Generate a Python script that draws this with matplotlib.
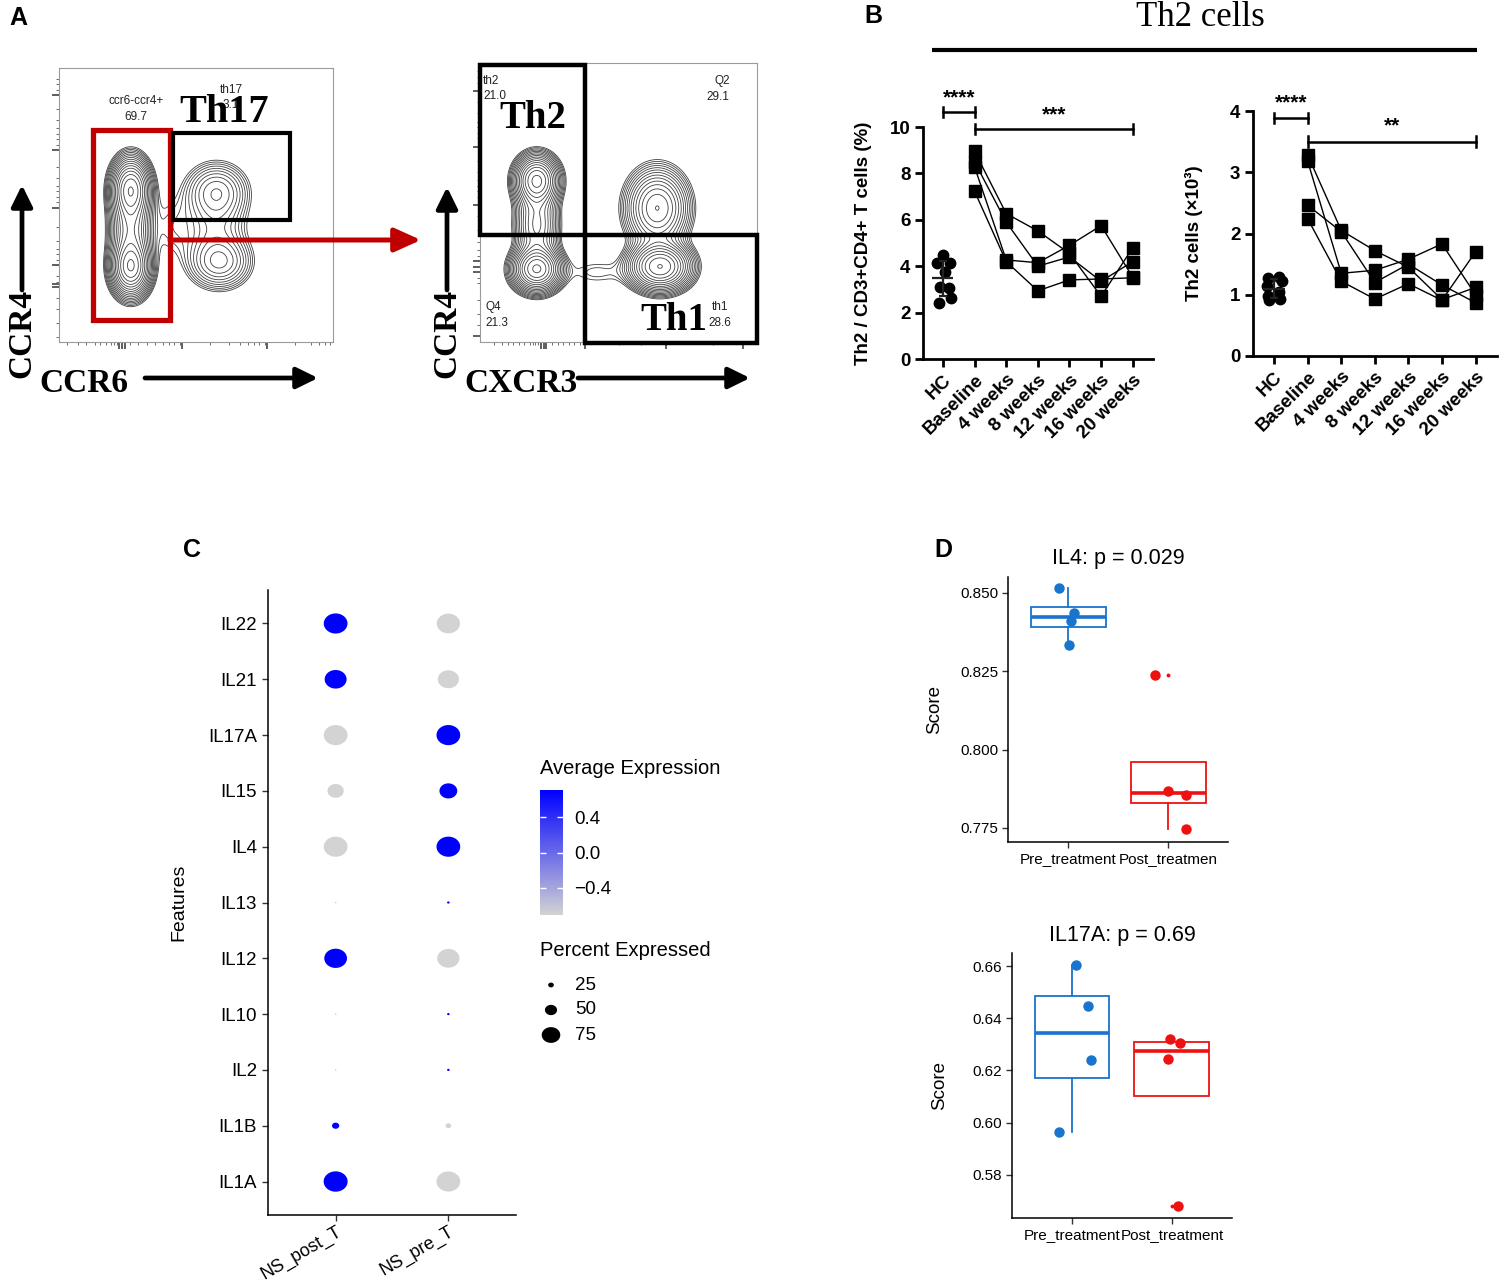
import numpy as np
import matplotlib
matplotlib.use("Agg")
import matplotlib.pyplot as plt
import matplotlib.cbook as cbook
from matplotlib.path import Path
from matplotlib.patches import Rectangle
from matplotlib.colors import LinearSegmentedColormap, Normalize
from matplotlib.cm import ScalarMappable

plt.rcParams['font.family'] = ['Liberation Sans', 'DejaVu Sans']
SERIF = ['Liberation Serif', 'DejaVu Serif']

# ---------------- data ----------------
# Panel A: flow populations (x, y, sx, sy, weight) in axes fraction
flow1_pops = [
    (0.262, 0.56, 0.038, 0.060, 1.0),
    (0.262, 0.27, 0.038, 0.055, 1.0),
    (0.262, 0.41, 0.040, 0.090, 0.55),
    (0.575, 0.55, 0.065, 0.060, 0.24),
    (0.585, 0.29, 0.065, 0.055, 0.26),
    (0.570, 0.42, 0.070, 0.080, 0.12),
    (0.410, 0.42, 0.050, 0.080, 0.05),
]
flow2_pops = [
    (0.205, 0.58, 0.042, 0.048, 1.0),
    (0.205, 0.26, 0.046, 0.042, 1.2),
    (0.205, 0.42, 0.042, 0.080, 0.45),
    (0.650, 0.27, 0.058, 0.045, 1.2),
    (0.640, 0.48, 0.060, 0.075, 0.65),
    (0.420, 0.25, 0.075, 0.035, 0.06),
]
flow1_gates = {'red': (0.124, 0.08, 0.405, 0.774), 'th17': (0.416, 0.445, 0.843, 0.763)}
flow2_gates = {'th2': (0.0, 0.384, 0.379, 0.993), 'th1': (0.379, -0.004, 1.0, 0.384)}

# Panel B
cats = ['HC', 'Baseline', '4 weeks', '8 weeks', '12 weeks', '16 weeks', '20 weeks']
hc_pct = [4.48, 4.15, 4.15, 3.77, 3.12, 3.05, 2.62, 2.43]
hc_pct_dx = [0.0, -0.19, 0.23, 0.05, -0.10, 0.19, 0.27, -0.13]
pat_pct = [
    [8.95, 6.27, 5.52, 4.55, 2.70, 4.80],
    [8.50, 5.90, 4.00, 4.40, 3.35, 4.20],
    [8.28, 4.27, 4.15, 4.90, 5.75, 3.52],
    [7.23, 4.20, 2.94, 3.41, 3.45, 3.50],
]
hc_cnt = [1.29, 1.27, 1.22, 1.15, 1.05, 0.98, 0.93, 0.92]
hc_cnt_dx = [0.15, -0.17, 0.22, -0.2, 0.15, -0.18, 0.18, -0.15]
pat_cnt = [
    [3.28, 2.05, 1.72, 1.45, 0.92, 1.12],
    [3.18, 1.35, 1.40, 1.58, 1.83, 1.00],
    [2.46, 2.03, 1.20, 1.50, 1.16, 0.87],
    [2.24, 1.22, 0.93, 1.18, 0.91, 1.70],
]

# Panel C
features = ['IL1A', 'IL1B', 'IL2', 'IL10', 'IL12', 'IL13', 'IL4', 'IL15', 'IL17A', 'IL21', 'IL22']
groups = ['NS_post_T', 'NS_pre_T']
pct_post = [96, 31, 10, 10, 91, 10, 95, 66, 95, 88, 95]
pct_pre = [95, 25, 13, 13, 89, 13, 95, 72, 95, 85, 93]
avg_post = [0.707, 0.707, -0.707, -0.707, 0.707, -0.707, -0.707, -0.707, -0.707, 0.707, 0.707]
avg_pre = [-0.707, -0.707, 0.707, 0.707, -0.707, 0.707, 0.707, 0.707, 0.707, -0.707, -0.707]
legend_pct = [25, 50, 75]

# Panel D
il4_pre = [0.8516, 0.8436, 0.8412, 0.8333]
il4_pre_dx = [-0.093, 0.06, 0.033, 0.01]
il4_post = [0.8239, 0.7869, 0.7856, 0.7745]
il4_post_dx = [-0.133, 0.0, 0.177, 0.177]
il17_pre = [0.6604, 0.6448, 0.6240, 0.5966]
il17_pre_dx = [0.04, 0.157, 0.19, -0.127]
il17_post = [0.6319, 0.6307, 0.6244, 0.5681]
il17_post_dx = [-0.023, 0.077, -0.04, 0.057]

# ---------------- figure ----------------
W, H = 1500, 1281
fig = plt.figure(figsize=(W / 100, H / 100), dpi=100)


def pax(x0, y0, x1, y1, **kw):
    return fig.add_axes([x0 / W, 1 - y1 / H, (x1 - x0) / W, (y1 - y0) / H], **kw)


ov = fig.add_axes([0, 0, 1, 1], zorder=20)
ov.set_xlim(0, W)
ov.set_ylim(H, 0)
ov.axis('off')
ov.patch.set_alpha(0)

# panel letters
for t, (x, y) in {'A': (18, 18), 'B': (873, 16), 'C': (192, 550), 'D': (943, 550)}.items():
    ov.text(x, y, t, fontsize=18, fontweight='bold', ha='center', va='center')


# ---------------- Panel A ----------------
def flow(ax, pops, xmaj, xmin, ymaj, ymin):
    g = np.linspace(0, 1, 400)
    X, Y = np.meshgrid(g, g)
    Z = np.zeros_like(X)
    for cx, cy, sx, sy, w in pops:
        Z += w * np.exp(-((X - cx) ** 2 / (2 * sx ** 2) + (Y - cy) ** 2 / (2 * sy ** 2)))
    levels = Z.max() * np.geomspace(0.035, 0.95, 17)
    ax.contour(X, Y, Z, levels=levels, colors='#404040', linewidths=0.6)
    ax.set_xlim(0, 1)
    ax.set_ylim(0, 1)
    for s in ax.spines.values():
        s.set_color('#9a9a9a')
        s.set_linewidth(0.8)
    ax.set_xticks(xmaj)
    ax.set_xticks(xmin, minor=True)
    ax.set_yticks(ymaj)
    ax.set_yticks(ymin, minor=True)
    ax.tick_params(which='major', direction='out', length=5, width=1.1, color='#333')
    ax.tick_params(which='minor', direction='out', length=2.5, width=0.6, color='#555')
    ax.tick_params(which='both', labelbottom=False, labelleft=False)


ax1 = pax(59, 68, 333, 342)
flow(ax1, flow1_pops,
     [0.22, 0.23, 0.24, 0.45, 0.76],
     [0.03, 0.07, 0.10, 0.13, 0.15, 0.17, 0.19, 0.20, 0.21, 0.26, 0.29, 0.32, 0.35, 0.38,
      0.40, 0.42, 0.44, 0.55, 0.62, 0.66, 0.69, 0.71, 0.73, 0.75, 0.86, 0.92, 0.95, 0.97, 0.99],
     [0.90, 0.70, 0.49, 0.28, 0.21, 0.20],
     [0.96, 0.94, 0.92, 0.85, 0.81, 0.78, 0.76, 0.74, 0.72, 0.64, 0.60, 0.57, 0.55, 0.53,
      0.51, 0.42, 0.37, 0.34, 0.32, 0.30, 0.24, 0.22, 0.16, 0.12, 0.07, 0.02])
for key, (x0, y0, x1, y1) in flow1_gates.items():
    col = '#C00000' if key == 'red' else 'black'
    lw = 3.8 if key == 'red' else 3.0
    ax1.add_patch(Rectangle((x0, y0), x1 - x0, y1 - y0, fill=False, ec=col, lw=lw,
                            clip_on=False, zorder=5, joinstyle='miter'))

ax2 = pax(480, 63, 757, 342)
flow(ax2, flow2_pops,
     [0.22, 0.23, 0.24, 0.38, 0.67, 0.95],
     [0.05, 0.08, 0.10, 0.12, 0.14, 0.16, 0.18, 0.19, 0.20, 0.21, 0.26, 0.28, 0.30,
      0.32, 0.34, 0.36, 0.50, 0.58, 0.84],
     [0.90, 0.70, 0.49, 0.29, 0.27, 0.25, 0.02],
     [0.97, 0.95, 0.93, 0.86, 0.82, 0.79, 0.77, 0.75, 0.73, 0.65, 0.61, 0.58, 0.56, 0.54,
      0.52, 0.45, 0.40, 0.36, 0.33, 0.31, 0.23, 0.21, 0.15, 0.10, 0.06])
for key, (x0, y0, x1, y1) in flow2_gates.items():
    ax2.add_patch(Rectangle((x0, y0), x1 - x0, y1 - y0, fill=False, ec='black', lw=3.2,
                            clip_on=False, zorder=5, joinstyle='miter'))

small = dict(fontsize=8.5, color='#222')
ov.text(136, 101, 'ccr6-ccr4+', ha='center', va='center', **small)
ov.text(136, 117, '69.7', ha='center', va='center', **small)
ov.text(231, 90, 'th17', ha='center', va='center', **small)
ov.text(231, 105, '3.1', ha='center', va='center', **small)
ov.text(224, 113, 'Th17', family=SERIF, fontweight='bold', fontsize=29, ha='center', va='center')
ov.text(483, 81, 'th2', ha='left', va='center', **small)
ov.text(483, 96, '21.0', ha='left', va='center', **small)
ov.text(722, 81, 'Q2', ha='center', va='center', **small)
ov.text(718, 97, '29.1', ha='center', va='center', **small)
ov.text(485, 307, 'Q4', ha='left', va='center', **small)
ov.text(485, 323, '21.3', ha='left', va='center', **small)
ov.text(720, 307, 'th1', ha='center', va='center', **small)
ov.text(720, 323, '28.6', ha='center', va='center', **small)
ov.text(533, 119, 'Th2', family=SERIF, fontweight='bold', fontsize=28, ha='center', va='center')
ov.text(674, 320, 'Th1', family=SERIF, fontweight='bold', fontsize=28, ha='center', va='center')

big = dict(family=SERIF, fontweight='bold', fontsize=24, ha='center', va='center')
ov.text(22, 333, 'CCR4', rotation=90, **big)
ov.text(84, 384, 'CCR6', **big)
ov.text(447, 333, 'CCR4', rotation=90, **big)
ov.text(521, 384, 'CXCR3', **big)

blk = dict(arrowstyle='-|>,head_length=0.65,head_width=0.32', lw=3.4, color='black',
           mutation_scale=20, shrinkA=0, shrinkB=0)
ov.annotate('', xy=(22, 185), xytext=(22, 290), arrowprops=blk)
ov.annotate('', xy=(318, 378), xytext=(145, 378), arrowprops=blk)
ov.annotate('', xy=(447, 187), xytext=(447, 290), arrowprops=blk)
ov.annotate('', xy=(750, 378), xytext=(578, 378), arrowprops=blk)
ov.annotate('', xy=(421, 240), xytext=(170, 240),
            arrowprops=dict(arrowstyle='-|>,head_length=0.8,head_width=0.36', lw=3.6,
                            color='#C00000', mutation_scale=20, shrinkA=0, shrinkB=0))

# ---------------- Panel B ----------------
ov.text(1200, 18, 'Th2 cells', family=SERIF, fontsize=25, ha='center', va='center')
ov.plot([932, 1477], [50, 50], color='black', lw=3.0, solid_capstyle='butt')

BF = 13.5


def gp(ax, hc, hc_dx, pats, ylim, yticks, ylabel, lblx, brackets):
    ax.set_xlim(-0.63, 6.64)
    ax.set_ylim(*ylim)
    for s in ['top', 'right']:
        ax.spines[s].set_visible(False)
    for s in ['left', 'bottom']:
        ax.spines[s].set_linewidth(2)
    ax.set_xticks(range(len(cats)))
    ax.set_xticklabels(cats, rotation=45, ha='right', rotation_mode='anchor',
                       fontweight='bold', fontsize=BF)
    ax.set_yticks(yticks)
    ax.set_yticklabels([str(v) for v in yticks], fontweight='bold', fontsize=BF)
    ax.tick_params(direction='out', length=6, width=2, pad=3)
    ax.set_ylabel(ylabel, fontweight='bold', fontsize=BF)
    ax.yaxis.set_label_coords(lblx, 0.5)
    xs = np.array(hc_dx)
    ax.plot(xs, hc, 'o', color='black', ms=7.5, clip_on=False, zorder=3)
    m = np.mean(hc)
    sd = np.std(hc, ddof=1)
    ax.hlines(m, -0.33, 0.33, color='#222', lw=1.6, zorder=4)
    ax.vlines(0, m - sd, m + sd, color='#222', lw=1.6, zorder=4)
    ax.hlines([m - sd, m + sd], -0.12, 0.12, color='#222', lw=1.6, zorder=4)
    for p in pats:
        ax.plot(range(1, 7), p, '-s', color='black', ms=8.5, lw=1.0, clip_on=False, zorder=3)
    for x0, x1, y, dy, txt, ty in brackets:
        ax.plot([x0, x1], [y, y], color='black', lw=1.8, clip_on=False)
        ax.plot([x0, x0], [y - dy, y + dy], color='black', lw=1.8, clip_on=False)
        ax.plot([x1, x1], [y - dy, y + dy], color='black', lw=1.8, clip_on=False)
        ax.text((x0 + x1) / 2, ty, txt, ha='center', va='center', fontweight='bold',
                fontsize=15, clip_on=False)


bx1 = pax(923, 127, 1153, 359)
gp(bx1, hc_pct, hc_pct_dx, pat_pct, (0, 10), [0, 2, 4, 6, 8, 10],
   'Th2 / CD3+CD4+ T cells (%)', -0.22,
   [(0, 1, 10.65, 0.22, '****', 11.25), (1, 6, 9.91, 0.22, '***', 10.52)])
bx2 = pax(1253, 111, 1497, 356)
gp(bx2, hc_cnt, hc_cnt_dx, pat_cnt, (0, 4), [0, 1, 2, 3, 4],
   'Th2 cells (×10³)', -0.205,
   [(0, 1, 3.89, 0.085, '****', 4.14), (1, 6, 3.50, 0.085, '**', 3.76)])

# ---------------- Panel C ----------------
CF = 13.5
cmap = LinearSegmentedColormap.from_list('gb', ['#D3D3D3', '#0000FF'])
norm = Normalize(-0.7071, 0.7071)
th = np.linspace(0, 2 * np.pi, 80)
ell = Path(np.c_[1.18 * np.cos(th), np.sin(th)], closed=True)
DOT_K = 24.0 / 93.0
P0 = 3.0


def dot_s(p):
    d_px = DOT_K * (np.asarray(p, float) - P0)
    return (np.clip(d_px, 0.8, None) * 0.72) ** 2


cx = pax(268, 590, 516, 1215)
ypos = np.arange(1, len(features) + 1)
cx.scatter(np.full(len(ypos), 1), ypos, s=dot_s(pct_post), c=avg_post, cmap=cmap, norm=norm,
           marker=ell, linewidths=0)
cx.scatter(np.full(len(ypos), 2), ypos, s=dot_s(pct_pre), c=avg_pre, cmap=cmap, norm=norm,
           marker=ell, linewidths=0)
cx.set_xlim(0.4, 2.6)
cx.set_ylim(0.4, len(features) + 0.6)
for s in ['top', 'right']:
    cx.spines[s].set_visible(False)
for s in ['left', 'bottom']:
    cx.spines[s].set_linewidth(1.1)
cx.set_yticks(ypos)
cx.set_yticklabels(features, fontsize=CF)
cx.set_xticks([1, 2])
cx.set_xticklabels(groups, fontsize=13, rotation=30, ha='right', rotation_mode='anchor')
cx.tick_params(length=4, width=1, color='#333', pad=4)
cx.tick_params(axis='x', pad=2)
cx.set_ylabel('Features', fontsize=CF + 0.5)
cx.yaxis.set_label_coords(-0.327, 0.5)

ov.text(540, 768, 'Average Expression', fontsize=14.5, ha='left', va='center')
cax = pax(540, 790, 563, 915)
cb = fig.colorbar(ScalarMappable(norm=norm, cmap=cmap), cax=cax)
cb.outline.set_visible(False)
cb.set_ticks([-0.4, 0.0, 0.4])
cb.set_ticklabels(['\u22120.4', '0.0', '0.4'])
cax.tick_params(direction='in', color='white', length=4, width=1, labelsize=CF, pad=8,
                left=True, right=True)
ov.text(540, 950, 'Percent Expressed', fontsize=14.5, ha='left', va='center')
leg_y = [985, 1010, 1035]
ov.scatter([551] * 3, leg_y, s=dot_s(legend_pct), color='black', marker=ell, linewidths=0)
for yv, p in zip(leg_y, legend_pct):
    ov.text(575, yv, str(p), fontsize=CF, ha='left', va='center')

# ---------------- Panel D ----------------
BLUE = '#1874CD'
RED = '#EE1111'
DF = 11


def boxp(ax, groups_v, groups_dx, ylim, yticks, ytl, title, xl, lblx):
    cols = [BLUE, RED]
    for i, (v, dx) in enumerate(zip(groups_v, groups_dx)):
        c = cols[i]
        st = cbook.boxplot_stats(np.array(v))[0]
        st['whislo'] = min(st['whislo'], st['q1'])
        st['whishi'] = max(st['whishi'], st['q3'])
        ax.bxp([st], positions=[i + 1], widths=0.75, showcaps=False, showfliers=True,
               patch_artist=True,
               boxprops=dict(facecolor='white', edgecolor=c, lw=1.3),
               whiskerprops=dict(color=c, lw=1.3),
               medianprops=dict(color=c, lw=2.6),
               flierprops=dict(marker='o', ms=1.8, mfc=c, mec=c))
        ax.plot(i + 1 + np.array(dx), v, 'o', color=c, ms=7.5, mec='none', zorder=5,
                clip_on=False)
    ax.set_xlim(0.4, 2.6)
    ax.set_ylim(*ylim)
    ax.set_xticks([1, 2])
    ax.set_xticklabels(xl, fontsize=DF)
    ax.set_yticks(yticks)
    ax.set_yticklabels(ytl, fontsize=DF)
    for s in ['top', 'right']:
        ax.spines[s].set_visible(False)
    for s in ['left', 'bottom']:
        ax.spines[s].set_linewidth(1.1)
    ax.tick_params(length=4, width=1, color='#333', pad=3)
    ax.set_ylabel('Score', fontsize=13.5)
    ax.yaxis.set_label_coords(lblx, 0.5)
    ax.set_title(title, fontsize=15.5, pad=9)


dx1 = pax(1008, 577, 1228, 842)
boxp(dx1, [il4_pre, il4_post], [il4_pre_dx, il4_post_dx], (0.7705, 0.8551),
     [0.775, 0.800, 0.825, 0.850], ['0.775', '0.800', '0.825', '0.850'],
     'IL4: p = 0.029', ['Pre_treatment', 'Post_treatmen'], -0.295)
dx2 = pax(1012, 953, 1232, 1218)
boxp(dx2, [il17_pre, il17_post], [il17_pre_dx, il17_post_dx], (0.5635, 0.665),
     [0.58, 0.60, 0.62, 0.64, 0.66], ['0.58', '0.60', '0.62', '0.64', '0.66'],
     'IL17A: p = 0.69', ['Pre_treatment', 'Post_treatment'], -0.29)

fig.savefig('out.png', dpi=100)
